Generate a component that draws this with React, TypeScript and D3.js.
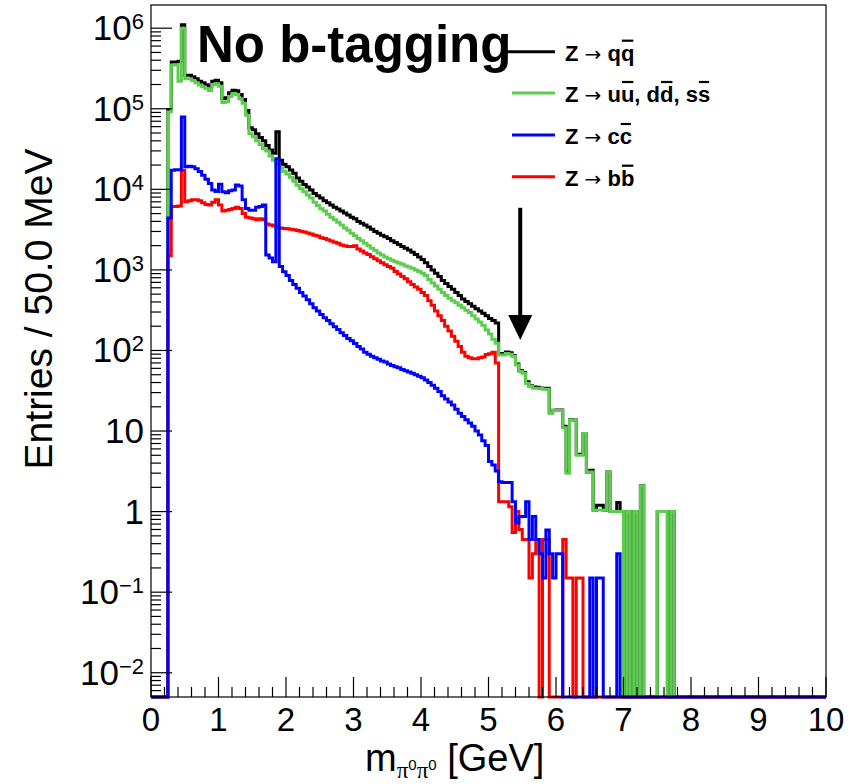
import React, { useEffect, useRef } from "react";
import * as d3 from "d3";

// ---------------- data ----------------
const BIN_WIDTH = 0.05; // GeV (50.0 MeV)
const N_BINS = 200; // 0 .. 10 GeV
const FIRST_BIN = 5; // arrays start at 0.25 GeV

// Z -> q qbar (total)
const qqAll = [
  98000, 380000, 380000, 390000, 1100000, 260000, 260000, 250000, 235000, 220000,
  210000, 199000, 187000, 220000, 226000, 210000, 134000, 137000, 158000, 170000,
  167000, 150000, 130000, 95000, 58000, 55000, 49000, 44000, 40000, 35000,
  30700, 28000, 52000, 23000, 20500, 19000, 17400, 15800, 13800, 12600,
  11500, 10700, 9800, 8900, 8300, 7800, 7200, 6800, 6400, 6000,
  5700, 5400, 5100, 4800, 4500, 4300, 4000, 3800, 3600, 3400,
  3200, 3000, 2850, 2700, 2570, 2450, 2300, 2190, 2070, 1950,
  1860, 1760, 1660, 1550, 1450, 1350, 1230, 1100, 1000, 910,
  830, 740, 680, 620, 575, 525, 480, 435, 405, 380,
  355, 330, 310, 290, 270, 250, 235, 220, 91.7, 91.6,
  95.6, 93.5, 85.9, 67.7, 56.5, 53.3, 40.8, 36.6, 35.2, 34.9,
  34.3, 33.6, 34.0, 16.9, 18.15, 18.3, 18.3, 11.45, 3.15, 13.85,
  13.7, 5.15, 5.15, 9.3, 3.1, 3.25, 1.05, 1.2, 1.2, 1.05,
  3.1, 1.0, 1.0, 1.3, 1.0, 0, 1.0, 0, 1.0, 0,
  2.1, 0, 0, 0, 0, 1.0, 1.0, 1.0, 0, 1.0,
];

// Z -> u ubar, d dbar, s sbar
const udsBar = [
  91000, 350000, 350000, 220000, 1000000, 235000, 235000, 225000, 210000, 197000,
  187000, 178000, 168000, 200000, 205000, 190000, 120000, 122000, 142000, 155000,
  150000, 133000, 117000, 83000, 49000, 45000, 40000, 36000, 32000, 29800,
  26000, 23000, 20500, 18500, 16600, 15500, 14100, 12600, 11200, 10200,
  9300, 8500, 7800, 6900, 6300, 5750, 5400, 4900, 4500, 4200,
  3900, 3600, 3300, 3100, 2850, 2650, 2450, 2300, 2140, 2000,
  1860, 1740, 1620, 1530, 1450, 1380, 1320, 1260, 1215, 1175,
  1120, 1085, 1050, 1000, 955, 910, 850, 760, 690, 630,
  575, 525, 480, 445, 415, 390, 365, 340, 315, 295,
  270, 245, 225, 205, 180, 160, 138, 123, 88, 88,
  92, 90, 84, 66, 55, 52, 39, 36, 34, 34,
  34, 33, 33, 16.6, 18, 18, 18, 11, 3.0, 13.7,
  13.7, 5, 5, 9.3, 3.1, 3.1, 1.05, 1.05, 1.05, 1.05,
  3.1, 1.0, 1.0, 1.0, 1.0, 0, 1.0, 0, 1.0, 0,
  2.1, 0, 0, 0, 0, 1.0, 1.0, 1.0, 0, 1.0,
];

// Z -> c cbar
const ccBar = [
  4400, 17300, 17500, 17500, 79000, 19000, 19300, 19000, 18000, 16600,
  15000, 13300, 11800, 9800, 9400, 11600, 9300, 9100, 9600, 9800,
  11300, 11000, 7400, 5800, 5500, 5500, 6000, 6100, 6400, 1530,
  1400, 1260, 24000, 1100, 950, 850, 740, 660, 590, 525,
  475, 425, 380, 340, 310, 280, 255, 235, 215, 197,
  182, 166, 153, 141, 132, 122, 112, 104, 95, 90,
  85, 81, 78, 74, 72, 68, 65, 63, 61, 58,
  56, 54, 52, 50, 48, 46, 43, 40, 37, 34,
  31, 27.5, 25, 23, 21, 18.6, 16.6, 15.1, 13.8, 12.6,
  11.5, 10, 8.9, 7.6, 6.6, 4.2, 3.8, 3.2, 2.35, 2.3,
  2.3, 2.3, 1.33, 0.72, 0.87, 0.87, 1.33, 0.45, 0.87, 0.45,
  0.3, 0.15, 0.59, 0.3, 0.15, 0.3, 0.3, 0, 0, 0,
  0, 0, 0, 0, 0, 0.15, 0, 0.15, 0.15, 0,
  0, 0, 0, 0.3,
];

// Z -> b bbar
const bbBar = [
  1500, 6100, 6100, 6200, 17300, 7000, 7200, 7400, 7400, 7200,
  6800, 6500, 6400, 6900, 7400, 6400, 5400, 5500, 5600, 5800,
  6000, 5800, 5000, 4500, 4400, 4300, 4200, 4300, 4200, 3700,
  3600, 3500, 3400, 3300, 3260, 3240, 3200, 3160, 3090, 3020,
  2950, 2880, 2790, 2690, 2630, 2510, 2450, 2370, 2290, 2210,
  2140, 2040, 2000, 1950, 1950, 2000, 1820, 1720, 1620, 1550,
  1460, 1380, 1300, 1230, 1160, 1100, 1050, 955, 890, 830,
  775, 715, 660, 615, 575, 525, 480, 415, 365, 310,
  270, 235, 200, 175, 150, 130, 112, 95, 85, 81,
  79, 79, 81, 83, 89, 91, 95, 70, 1.33, 1.33,
  1.33, 1.15, 0.55, 1.0, 0.6, 0.45, 0.45, 0.15, 0.3, 0.45,
  0, 0.45, 0.45, 0, 0, 0, 0, 0.45, 0.15, 0.15,
  0, 0.15, 0.15, 0,
];

const xTickValues = [0, 1, 2, 3, 4, 5, 6, 7, 8, 9, 10];
const yTickExponents = [-2, -1, 0, 1, 2, 3, 4, 5, 6];

// legend labels: {x} marks an overlined (anti-quark) letter
const legendEntries = [
  { label: "Z → q{q}", color: "#000000" },
  { label: "Z → u{u}, d{d}, s{s}", color: "#5ccd4e" },
  { label: "Z → c{c}", color: "#0000ff" },
  { label: "Z → b{b}", color: "#ff0000" },
];

const seriesList = [
  { name: "qq", values: qqAll, color: "#000000" },
  { name: "uds", values: udsBar, color: "#5ccd4e" },
  { name: "bb", values: bbBar, color: "#ff0000" },
  { name: "cc", values: ccBar, color: "#0000ff" },
];

const cutArrow = { x: 5.47, top: 5900, tip: 135 };

// ---------------- layout ----------------
const W = 851;
const H = 784;
const L = 151;
const R = 826;
const T = 5;
const B = 697;
const Y_MIN = 0.005;
const Y_MAX = 1.94e6;
const FONT = "'Liberation Sans', Arial, Helvetica, sans-serif";

function parseLabel(label: string) {
  let plain = "";
  const bars: number[] = [];
  let arrowIdx = -1;
  for (let i = 0; i < label.length; i++) {
    const ch = label[i];
    if (ch === "{") {
      bars.push(plain.length);
      plain += label[i + 1];
      i += 2;
    } else {
      if (ch === "→") arrowIdx = plain.length;
      plain += ch;
    }
  }
  return { plain, bars, arrowIdx };
}

export default function App() {
  const legendRef = useRef<SVGGElement | null>(null);

  const x = d3.scaleLinear().domain([0, 10]).range([L, R]);
  const y = d3.scaleLog().domain([Y_MIN, Y_MAX]).range([B, T]).clamp(true);
  const yv = (v: number) => (v > Y_MIN ? y(v) : B);

  const binValue = (vals: number[], i: number) => {
    const j = i - FIRST_BIN;
    return j >= 0 && j < vals.length ? vals[j] : 0;
  };

  const line = d3
    .line<[number, number]>()
    .x((d) => x(d[0]))
    .y((d) => yv(d[1]))
    .curve(d3.curveStepAfter);

  const histPath = (vals: number[]) => {
    const pts: [number, number][] = [];
    for (let i = 0; i < N_BINS; i++) pts.push([i * BIN_WIDTH, binValue(vals, i)]);
    pts.push([N_BINS * BIN_WIDTH, binValue(vals, N_BINS - 1)]);
    return line(pts) || "";
  };

  // ticks
  const xMinor = d3.range(0, 10.0001, 0.2).filter((v) => Math.abs(v - Math.round(v)) > 1e-6);
  const yMinor: number[] = [];
  for (let e = -3; e <= 6; e++) {
    for (let m = 2; m <= 9; m++) {
      const v = m * Math.pow(10, e);
      if (v >= Y_MIN && v <= Y_MAX) yMinor.push(v);
    }
  }

  const legendY = [51.7, 93, 135, 176.7];
  const legendParsed = legendEntries.map((e) => parseLabel(e.label));

  useEffect(() => {
    if (!legendRef.current) return;
    const g = d3.select(legendRef.current);
    g.selectAll("line.bar").remove();
    g.selectAll<SVGTextElement, unknown>("text.leg").each(function (_, k) {
      const el = this as SVGTextElement;
      const p = legendParsed[k];
      p.bars.forEach((ci) => {
        try {
          const ext = el.getExtentOfChar(ci);
          g.append("line")
            .attr("class", "bar")
            .attr("x1", ext.x + 1)
            .attr("x2", ext.x + ext.width - 1)
            .attr("y1", legendY[k] - 11)
            .attr("y2", legendY[k] - 11)
            .attr("stroke", "#000")
            .attr("stroke-width", 2.2);
        } catch (err) {
          /* ignore */
        }
      });
    });
  }, []);

  const ax = x(cutArrow.x);
  const aTop = y(cutArrow.top);
  const aTip = y(cutArrow.tip);

  return (
    <svg
      width={W}
      height={H}
      style={{ position: "absolute", left: 0, top: 0, background: "#fff" }}
      fontFamily={FONT}
    >
      <rect x={0} y={0} width={W} height={H} fill="#fff" />
      <defs>
        <clipPath id="frameClip">
          <rect x={L - 2} y={T} width={R - L + 4} height={B - T + 2} />
        </clipPath>
      </defs>

      {/* histograms */}
      <g clipPath="url(#frameClip)">
        {seriesList.map((s) => (
          <path
            key={s.name}
            d={histPath(s.values)}
            fill="none"
            stroke={s.color}
            strokeWidth={3}
            strokeLinejoin="miter"
          />
        ))}
      </g>

      {/* frame */}
      <rect x={L} y={T} width={R - L} height={B - T} fill="none" stroke="#000" strokeWidth={1.2} />

      {/* x ticks */}
      {xTickValues.map((v) => (
        <line key={"xM" + v} x1={x(v)} x2={x(v)} y1={B} y2={B - 20} stroke="#000" strokeWidth={1.2} />
      ))}
      {xMinor.map((v, i) => (
        <line key={"xm" + i} x1={x(v)} x2={x(v)} y1={B} y2={B - 10} stroke="#000" strokeWidth={1.2} />
      ))}
      {xTickValues.map((v) => (
        <text key={"xl" + v} x={x(v)} y={731} textAnchor="middle" fontSize={33} fill="#000">
          {v}
        </text>
      ))}

      {/* y ticks */}
      {yTickExponents.map((e) => (
        <line
          key={"yM" + e}
          x1={L}
          x2={L + 21}
          y1={y(Math.pow(10, e))}
          y2={y(Math.pow(10, e))}
          stroke="#000"
          strokeWidth={1.2}
        />
      ))}
      {yMinor.map((v, i) => (
        <line key={"ym" + i} x1={L} x2={L + 10} y1={y(v)} y2={y(v)} stroke="#000" strokeWidth={1.2} />
      ))}
      {yTickExponents.map((e) => {
        const ty = y(Math.pow(10, e));
        if (e === 0)
          return (
            <text key={"yl" + e} x={144} y={ty + 12} textAnchor="end" fontSize={35} fill="#000">
              1
            </text>
          );
        if (e === 1)
          return (
            <text key={"yl" + e} x={144} y={ty + 12} textAnchor="end" fontSize={35} fill="#000">
              10
            </text>
          );
        return (
          <text key={"yl" + e} x={144} y={ty + 12} textAnchor="end" fontSize={35} fill="#000">
            10
            <tspan dy={-11} fontSize={22}>
              {e < 0 ? "−" + Math.abs(e) : String(e)}
            </tspan>
          </text>
        );
      })}

      {/* axis titles */}
      <text
        transform={`translate(52, 309) rotate(-90)`}
        textAnchor="middle"
        fontSize={39}
        fill="#000"
      >
        Entries / 50.0 MeV
      </text>
      <text x={365} y={771} fontSize={38} fill="#000">
        m
        <tspan dy={7} fontSize={23} fontFamily="'Liberation Serif', 'DejaVu Serif', serif">π</tspan>
        <tspan dy={-8} fontSize={15}>0</tspan>
        <tspan dy={8} fontSize={23} fontFamily="'Liberation Serif', 'DejaVu Serif', serif">π</tspan>
        <tspan dy={-8} fontSize={15}>0</tspan>
        <tspan dy={1} fontSize={38}> [GeV]</tspan>
      </text>

      {/* label */}
      <text x={197} y={62} fontSize={51} fontWeight="bold" fill="#000">
        No b-tagging
      </text>

      {/* legend */}
      <g ref={legendRef}>
        {legendEntries.map((e, k) => (
          <line
            key={"ll" + k}
            x1={k === 0 ? 503 : 512}
            x2={555}
            y1={legendY[k]}
            y2={legendY[k]}
            stroke={e.color}
            strokeWidth={3}
          />
        ))}
        {legendParsed.map((p, k) => {
          const before = p.plain.slice(0, p.arrowIdx);
          const arrow = p.plain.slice(p.arrowIdx, p.arrowIdx + 1);
          const after = p.plain.slice(p.arrowIdx + 1);
          return (
            <text
              key={"lt" + k}
              className="leg"
              x={565}
              y={legendY[k] + 9}
              fontSize={22}
              fontWeight="bold"
              fill="#000"
            >
              {before}
              <tspan fontWeight="normal" fontFamily="'DejaVu Sans', sans-serif" fontSize={20}>
                {arrow}
              </tspan>
              {after}
            </text>
          );
        })}
      </g>

      {/* cut arrow */}
      <line x1={ax} x2={ax} y1={aTop} y2={aTip - 22} stroke="#000" strokeWidth={4} />
      <path d={`M${ax - 12},${aTip - 25} L${ax + 12},${aTip - 25} L${ax},${aTip} Z`} fill="#000" />
    </svg>
  );
}
